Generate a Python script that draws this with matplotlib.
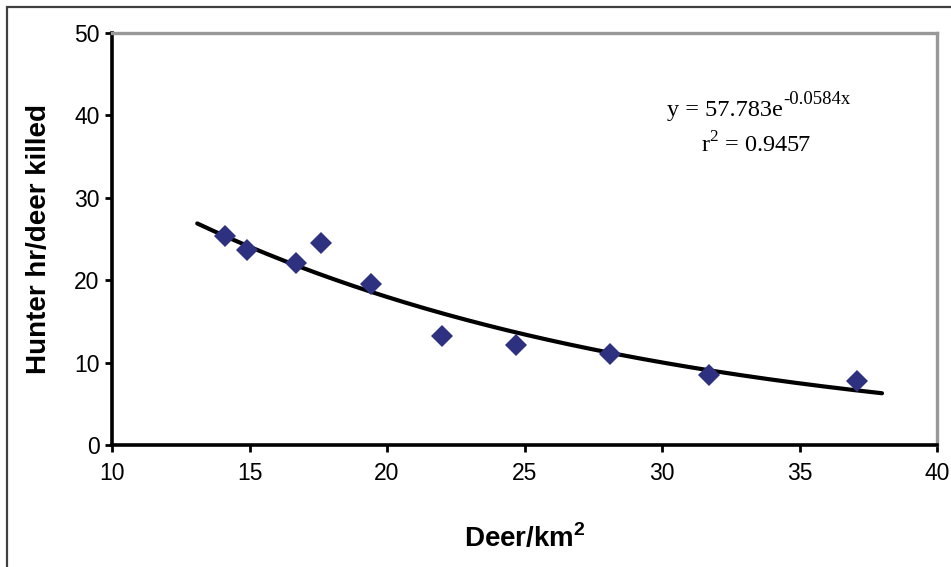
import matplotlib
matplotlib.use("Agg")
import matplotlib.pyplot as plt
import numpy as np
from matplotlib.patches import Rectangle

# deer density vs hunter effort
deer_density = [14.1, 14.9, 16.7, 17.6, 19.4, 22.0, 24.7, 28.1, 31.7, 37.1]
hunter_hours = [25.4, 23.7, 22.1, 24.5, 19.5, 13.2, 12.1, 11.0, 8.5, 7.8]

# exponential trendline as printed on the chart
fit_a = 57.783
fit_b = -0.0584
r_squared = 0.9457
trend_range = (13.1, 38.0)

x_ticks = [10, 15, 20, 25, 30, 35, 40]
y_ticks = [0, 10, 20, 30, 40, 50]

tick_font = "Liberation Sans"
label_font = ["Liberation Sans", "DejaVu Sans"]
eq_font = ["Liberation Serif", "DejaVu Serif"]

fig = plt.figure(figsize=(9.51, 5.67), dpi=100)
ax = fig.add_axes([112 / 951, 1 - 445 / 567, 825 / 951, 412 / 567])

# outer chart frame (runs off the right and bottom edges)
fig.patches.append(Rectangle((6.5 / 951, -0.1), 1.2, 1 - 7 / 567 + 0.1,
                             transform=fig.transFigure, fill=False,
                             edgecolor="#404040", linewidth=1.6))

tx = np.linspace(trend_range[0], trend_range[1], 200)
ax.plot(tx, fit_a * np.exp(fit_b * tx), color="black", lw=3, zorder=2,
        solid_capstyle="round")
ax.plot(deer_density, hunter_hours, "D", color="#2E3180", markersize=11,
        markeredgewidth=0, zorder=3)

ax.set_xlim(10, 40)
ax.set_ylim(0, 50)
ax.set_xticks(x_ticks)
ax.set_yticks(y_ticks)

for side in ["left", "bottom"]:
    ax.spines[side].set_linewidth(2.6)
    ax.spines[side].set_color("black")
for side in ["top", "right"]:
    ax.spines[side].set_linewidth(2.4)
    ax.spines[side].set_color("#999999")

ax.tick_params(direction="out", length=5, width=2, colors="black",
               labelsize=16.5, labelfontfamily=tick_font)
ax.tick_params(axis="x", pad=7)
ax.tick_params(axis="y", pad=4)

ax.set_xlabel("Deer/km$^{\\mathregular{2}}$", family=label_font,
              fontsize=20, fontweight="bold", va="baseline")
ax.xaxis.set_label_coords(0.5, -0.2476)
ax.set_ylabel("Hunter hr/deer killed", family=label_font,
              fontsize=20, fontweight="bold", va="center")
ax.yaxis.set_label_coords(-0.0885, 0.5)

eq = ax.text(0.743, 0.7985, "y = %.3fe" % fit_a,
             transform=ax.transAxes, ha="center", va="baseline",
             family=eq_font, fontsize=17.5)
ax.annotate("%.4fx" % fit_b, xy=(1, 0.6), xycoords=eq,
            ha="left", va="bottom", family=eq_font, fontsize=13.5)
ax.text(0.781, 0.709, "r$^{\\mathregular{2}}$ = %.4f" % r_squared,
        transform=ax.transAxes, ha="center", va="baseline",
        family=eq_font, fontsize=17.5)

fig.savefig("out.png", dpi=100)
